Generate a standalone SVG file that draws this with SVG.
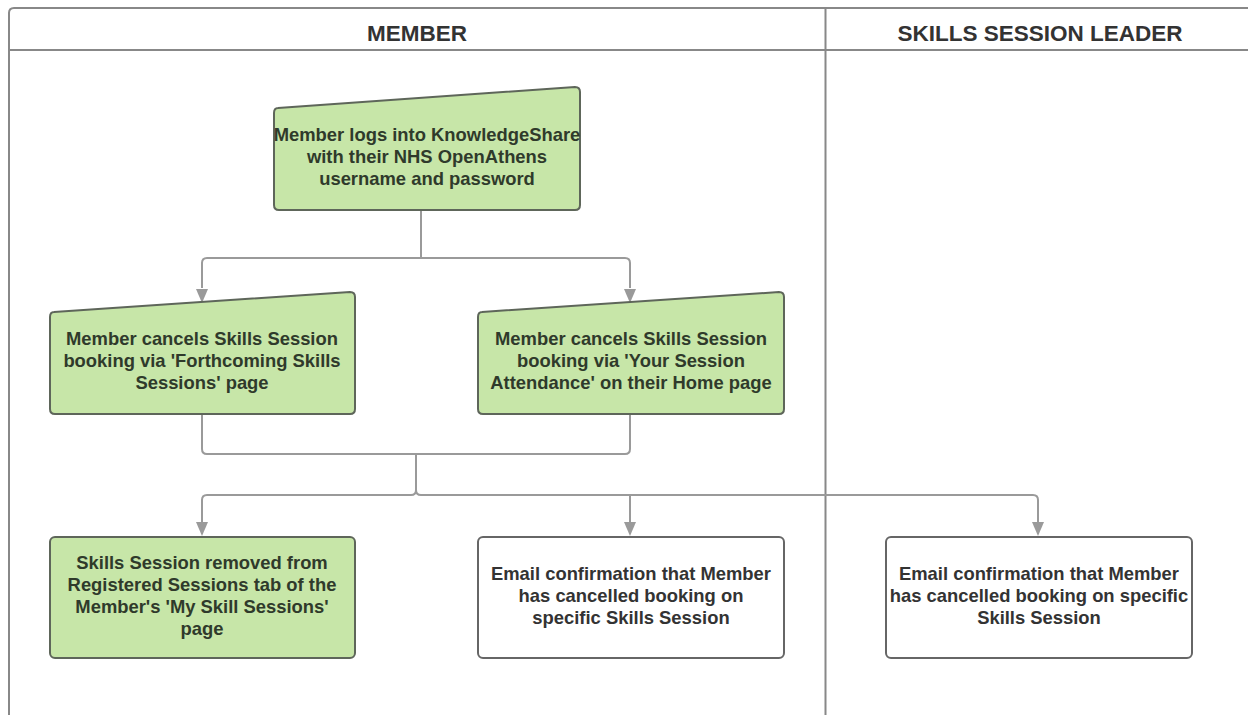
<svg xmlns="http://www.w3.org/2000/svg" width="1248" height="715" viewBox="0 0 1248 715">
<defs>
<style>
.pool{fill:none;stroke:#888;stroke-width:2}
.hdr{font-family:"Liberation Sans",Arial,sans-serif;font-weight:bold;font-size:22.5px;fill:#333;text-anchor:middle}
.g{fill:#c7e6a8;stroke:#5e665a;stroke-width:2;stroke-linejoin:round}
.w{fill:#fff;stroke:#666;stroke-width:2}
.tg{font-family:"Liberation Sans",Arial,sans-serif;font-weight:bold;font-size:18.4px;fill:#2f3a2b;text-anchor:middle}
.tw{font-family:"Liberation Sans",Arial,sans-serif;font-weight:bold;font-size:18.4px;fill:#333;text-anchor:middle}
.c{fill:none;stroke:#9a9a9a;stroke-width:2;stroke-linejoin:round}
.ah{fill:#9a9a9a}
</style>
</defs>
<g id="pool">
<path class="pool" d="M1250,8 L14,8 Q9,8 9,13 L9,716"/>
<line class="pool" x1="9" y1="50" x2="1250" y2="50"/>
<line class="pool" x1="825.5" y1="8" x2="825.5" y2="716"/>
<text class="hdr" x="417" y="41">MEMBER</text>
<text class="hdr" x="1040" y="41">SKILLS SESSION LEADER</text>
</g>
<g id="connectors">
<path class="c" d="M421,210 L421,258 L207,258 Q202,258 202,263 L202,288"/>
<path class="c" d="M421,258 L625,258 Q630,258 630,263 L630,288"/>
<path class="c" d="M202,414 L202,449 Q202,454 207,454 L625,454 Q630,454 630,449 L630,414"/>
<path class="c" d="M416,454 L416,490 Q416,495 411,495 L207,495 Q202,495 202,500 L202,522"/>
<path class="c" d="M416,490 Q416,495 421,495 L1033,495 Q1038,495 1038,500 L1038,522"/>
<path class="c" d="M630,495 L630,522"/>
<path class="ah" d="M196,289 L208,289 L202,303 Z"/>
<path class="ah" d="M624,289 L636,289 L630,303 Z"/>
<path class="ah" d="M196,522 L208,522 L202,536 Z"/>
<path class="ah" d="M624,522 L636,522 L630,536 Z"/>
<path class="ah" d="M1032,522 L1044,522 L1038,536 Z"/>
</g>
<g id="n1">
<path class="g" d="M278,108 L575,87 Q580,87 580,92 L580,205 Q580,210 575,210 L279,210 Q274,210 274,205 L274,113 Q274,108 278,108 Z"/>
<text class="tg" x="427" y="141">Member logs into KnowledgeShare</text>
<text class="tg" x="427" y="163">with their NHS OpenAthens</text>
<text class="tg" x="427" y="185">username and password</text>
</g>
<g id="n2">
<path class="g" d="M54,312 L350,292 Q355,292 355,297 L355,409 Q355,414 350,414 L55,414 Q50,414 50,409 L50,317 Q50,312 54,312 Z"/>
<text class="tg" x="202" y="345">Member cancels Skills Session</text>
<text class="tg" x="202" y="367">booking via 'Forthcoming Skills</text>
<text class="tg" x="202" y="389">Sessions' page</text>
</g>
<g id="n3">
<path class="g" d="M482,312 L779,292 Q784,292 784,297 L784,409 Q784,414 779,414 L483,414 Q478,414 478,409 L478,317 Q478,312 482,312 Z"/>
<text class="tg" x="631" y="345">Member cancels Skills Session</text>
<text class="tg" x="631" y="367">booking via 'Your Session</text>
<text class="tg" x="631" y="389">Attendance' on their Home page</text>
</g>
<g id="n4">
<rect class="g" x="50" y="537" width="305" height="121" rx="5"/>
<text class="tg" x="202" y="569">Skills Session removed from</text>
<text class="tg" x="202" y="591">Registered Sessions tab of the</text>
<text class="tg" x="202" y="613">Member's 'My Skill Sessions'</text>
<text class="tg" x="202" y="635">page</text>
</g>
<g id="n5">
<rect class="w" x="478" y="537" width="306" height="121" rx="5"/>
<text class="tw" x="631" y="580">Email confirmation that Member</text>
<text class="tw" x="631" y="602">has cancelled booking on</text>
<text class="tw" x="631" y="624">specific Skills Session</text>
</g>
<g id="n6">
<rect class="w" x="886" y="537" width="306" height="121" rx="5"/>
<text class="tw" x="1039" y="580">Email confirmation that Member</text>
<text class="tw" x="1039" y="602">has cancelled booking on specific</text>
<text class="tw" x="1039" y="624">Skills Session</text>
</g>
</svg>
